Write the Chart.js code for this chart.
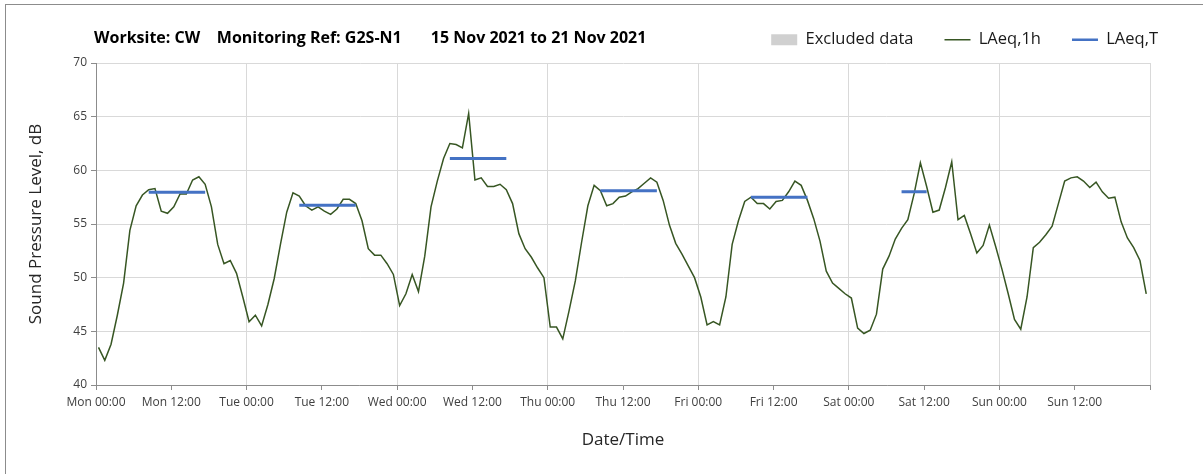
<!DOCTYPE html>
<html>
<head>
<meta charset="utf-8">
<script src="https://cdn.jsdelivr.net/npm/chart.js@4.4.0/dist/chart.umd.min.js"></script>
<style>
html, body { margin:0; padding:0; background:#fff; }
#marco { position:absolute; left:5px; top:4px; width:1300px; height:600px; border:1px solid #8c8c8c; }
#myChart { position:absolute; left:0; top:0; }
</style>
</head>
<body>
<div id="marco"></div>
<canvas id="myChart" width="1203" height="474"></canvas>
<script>
// datos
var titulo = 'Worksite: CW    Monitoring Ref: G2S-N1       15 Nov 2021 to 21 Nov 2021';
var dias = ['Mon', 'Tue', 'Wed', 'Thu', 'Fri', 'Sat', 'Sun'];

// LAeq,1h, una lectura por hora desde Mon 00:00 (168 horas)
var laeq1h = [
    43.5, 42.3, 43.8, 46.5, 49.5, 54.4, 56.7, 57.7, 58.2, 58.3, 56.2, 56.0,
    56.6, 57.8, 57.8, 59.1, 59.4, 58.7, 56.6, 53.1, 51.3, 51.6, 50.4, 48.2,
    45.9, 46.5, 45.5, 47.5, 49.9, 53.1, 56.1, 57.9, 57.6, 56.7, 56.3, 56.6,
    56.2, 55.9, 56.4, 57.3, 57.3, 56.9, 55.3, 52.7, 52.1, 52.1, 51.3, 50.3,
    47.4, 48.5, 50.3, 48.7, 52.0, 56.6, 59.0, 61.1, 62.5, 62.4, 62.1, 65.3,
    59.1, 59.3, 58.5, 58.5, 58.7, 58.2, 56.9, 54.1, 52.7, 51.9, 50.9, 50.0,
    45.4, 45.4, 44.3, 46.9, 49.7, 53.3, 56.7, 58.6, 58.1, 56.7, 56.9, 57.5,
    57.6, 58.0, 58.3, 58.8, 59.3, 58.9, 57.2, 54.9, 53.2, 52.2, 51.1, 50.0,
    48.2, 45.6, 45.9, 45.6, 48.2, 53.1, 55.3, 57.1, 57.5, 56.9, 56.9, 56.4,
    57.1, 57.2, 58.0, 59.0, 58.6, 57.2, 55.5, 53.4, 50.6, 49.5, 49.0, 48.5,
    48.1, 45.3, 44.8, 45.1, 46.6, 50.8, 52.0, 53.6, 54.6, 55.4, 57.8, 60.7,
    58.5, 56.1, 56.3, 58.4, 60.8, 55.4, 55.8, 54.1, 52.3, 53.0, 54.9, 52.9,
    50.8, 48.5, 46.1, 45.2, 48.2, 52.8, 53.3, 54.0, 54.8, 56.9, 59.0, 59.3,
    59.4, 59.0, 58.4, 58.9, 58.0, 57.4, 57.5, 55.2, 53.7, 52.8, 51.6, 48.5
];
var desfase = 0.4; // las lecturas caen un poco despues de la hora en punto

// LAeq,T por dia (Mon..Sat) con su periodo en horas
var laeqT = [57.95, 56.75, 61.1, 58.1, 57.5, 58.0];
var periodoIni = [8, 8, 8, 8, 8, 8];
var periodoFin = [17, 17, 17, 17, 17, 12];

// armar puntos
var puntos1h = [];
for (var i = 0; i < laeq1h.length; i++) {
    puntos1h.push({x: i + desfase, y: laeq1h[i]});
}
var puntosT = [];
for (var d = 0; d < laeqT.length; d++) {
    puntosT.push({x: d * 24 + periodoIni[d] + desfase, y: laeqT[d]});
    puntosT.push({x: d * 24 + periodoFin[d] + desfase, y: laeqT[d]});
    puntosT.push({x: d * 24 + periodoFin[d] + desfase, y: null});
}

Chart.defaults.font.family = '"Open Sans", sans-serif';
Chart.defaults.color = '#595959';

// titulo a la izquierda, en la misma fila que la leyenda
var encabezado = {
    id: 'encabezado',
    afterLayout: function(chart) {
        // subir un poco la leyenda
        chart.legend.top -= 5;
        chart.legend.bottom -= 5;
    },
    afterDraw: function(chart) {
        var ctx = chart.ctx;
        ctx.save();
        ctx.font = 'bold 16px "Open Sans", sans-serif';
        ctx.fillStyle = '#000';
        ctx.textBaseline = 'middle';
        ctx.fillText(titulo, chart.chartArea.left - 2, 38);
        ctx.restore();
    }
};

var datosChart = {
    datasets: [{
        label: 'Excluded data',
        data: [],
        backgroundColor: '#d0d0d0',
        borderColor: '#d0d0d0',
        borderWidth: 0
    }, {
        label: 'LAeq,1h',
        data: puntos1h,
        borderColor: '#375623',
        backgroundColor: '#375623',
        borderWidth: 1.5,
        pointRadius: 0,
        order: 2
    }, {
        label: 'LAeq,T',
        data: puntosT,
        borderColor: '#4472c4',
        backgroundColor: '#4472c4',
        borderWidth: 3,
        pointRadius: 0,
        spanGaps: false,
        order: 1
    }]
};

var newChar = document.getElementById('myChart');

var charGrafico = new Chart(newChar, {
    type: 'line',
    data: datosChart,
    plugins: [encabezado],
    options: {
        responsive: false,
        animation: false,
        layout: { padding: { top: 0, right: 14, bottom: 0, left: 0 } },
        plugins: {
            tooltip: { enabled: false },
            legend: {
                position: 'top',
                align: 'end',
                labels: {
                    usePointStyle: true,
                    pointStyleWidth: 26,
                    boxHeight: 11,
                    padding: 31,
                    color: '#1a1a1a',
                    font: { size: 16.5 },
                    generateLabels: function(chart) {
                        var items = Chart.defaults.plugins.legend.labels.generateLabels(chart);
                        items.sort(function(a, b) { return a.datasetIndex - b.datasetIndex; });
                        items.forEach(function(it) {
                            var ds = chart.data.datasets[it.datasetIndex];
                            it.pointStyle = it.datasetIndex === 0 ? 'rect' : 'line';
                            it.strokeStyle = ds.borderColor;
                            it.fillStyle = ds.backgroundColor;
                            it.lineWidth = it.datasetIndex === 2 ? 2.5 : (it.datasetIndex === 1 ? 1.5 : 0);
                        });
                        return items;
                    }
                }
            }
        },
        scales: {
            x: {
                type: 'linear',
                min: 0,
                max: 168,
                afterFit: function(scale) {
                    scale.height = 89;
                    scale.paddingRight = 53;
                },
                ticks: {
                    stepSize: 12,
                    autoSkip: false,
                    maxRotation: 0,
                    padding: 5,
                    font: { size: 12 },
                    color: '#404040',
                    callback: function(v) {
                        if (v >= 168) return '';
                        return dias[Math.floor(v / 24)] + (v % 24 === 0 ? ' 00:00' : ' 12:00');
                    }
                },
                grid: {
                    color: function(c) {
                        return c.tick && c.tick.value % 24 === 0 ? '#d9d9d9' : 'rgba(0,0,0,0)';
                    },
                    tickColor: '#8c8c8c',
                    tickLength: 5
                },
                border: { color: '#8c8c8c' },
                title: {
                    display: true,
                    text: 'Date/Time',
                    color: '#262626',
                    font: { size: 17 },
                    padding: { top: 0, bottom: 24 }
                }
            },
            y: {
                min: 40,
                max: 70,
                afterFit: function(scale) {
                    scale.width = 96;
                    scale.paddingTop = 63;
                },
                ticks: {
                    stepSize: 5,
                    padding: 4,
                    font: { size: 12 },
                    color: '#404040'
                },
                grid: {
                    color: '#d9d9d9',
                    tickColor: '#8c8c8c',
                    tickLength: 5
                },
                border: { color: '#8c8c8c' },
                title: {
                    display: true,
                    text: 'Sound Pressure Level, dB',
                    color: '#262626',
                    font: { size: 17 },
                    padding: { top: 26, bottom: 0 }
                }
            }
        }
    }
});
</script>
</body>
</html>
